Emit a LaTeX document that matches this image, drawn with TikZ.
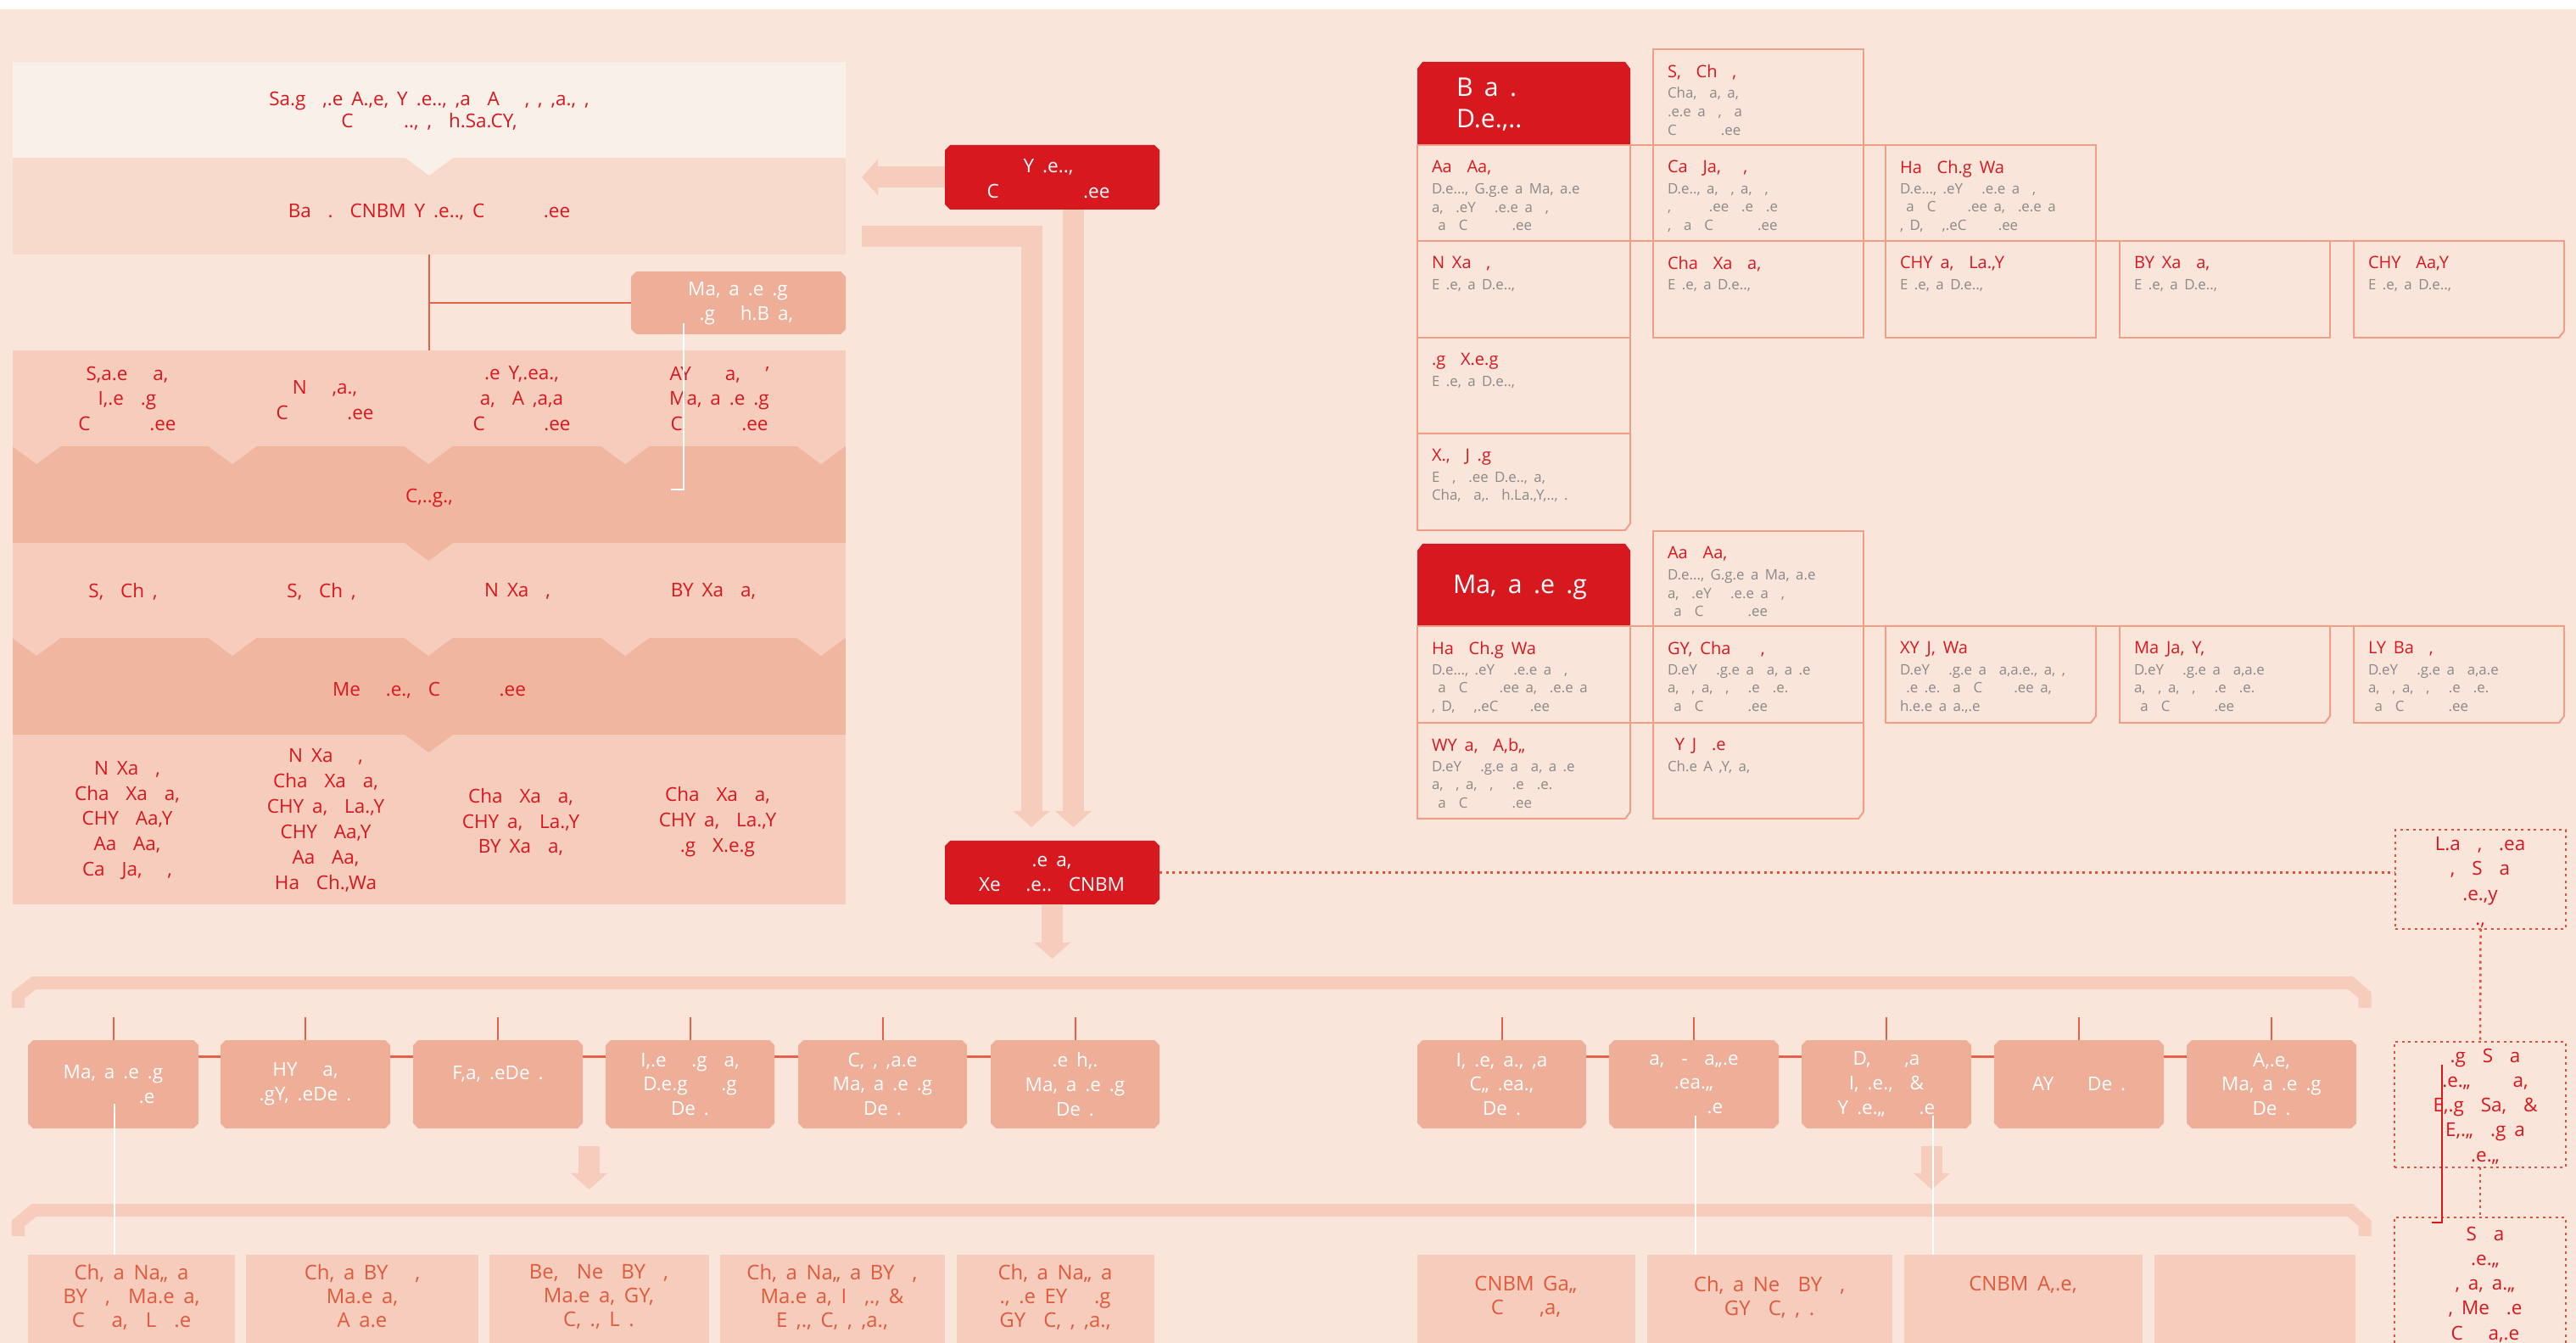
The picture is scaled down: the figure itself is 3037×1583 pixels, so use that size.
\documentclass[tikz,border=0pt]{standalone}
\usepackage{fontspec}
\setmainfont{Open Sans}[WordSpace=1.7]
\usetikzlibrary{arrows.meta,fit,calc}
\definecolor{bgc}{HTML}{FAE5DB}
\definecolor{topc}{HTML}{FAF0EA}
\definecolor{lc2}{HTML}{F8DACD}
\definecolor{lc3}{HTML}{F6CCBC}
\definecolor{lc4}{HTML}{F1B6A0}
\definecolor{cbox}{HTML}{EEAE97}
\definecolor{cred}{HTML}{D7191F}
\definecolor{cstroke}{HTML}{EF9F87}
\definecolor{lred}{HTML}{E6614A}
\definecolor{cgrey}{HTML}{8A8A8A}
\definecolor{corg}{HTML}{E05A3C}
\definecolor{dotc}{HTML}{E3503A}
\pgfdeclarelayer{bg}\pgfdeclarelayer{mid}\pgfsetlayers{bg,mid,main}
\tikzset{
 every node/.style={inner sep=0pt,outer sep=0pt},
 mtext/.style={text=cred,align=center,font=\fontsize{6.4}{8.5}\selectfont},
 wtext/.style={text=white,align=center,font=\fontsize{6.4}{8.2}\selectfont},
 btext/.style={text=corg,align=center,font=\fontsize{6.8}{8}\selectfont},
 bigw/.style={text=white,align=left,font=\fontsize{8.6}{10.5}\selectfont},
 ttl/.style={text=cred,align=left,font=\fontsize{5.7}{6.3}\selectfont},
 gtx/.style={text=cgrey,align=left,font=\fontsize{4.8}{6.2}\selectfont},
 dtext/.style={text=cred,align=center,font=\fontsize{6.4}{8.3}\selectfont},
 lnk/.style={draw=lred,line width=0.02cm},
 lnkh/.style={draw=lred,line width=0.03cm},
 wline/.style={draw=white,line width=0.02cm},
 cellline/.style={draw=cstroke,line width=0.02cm},
 bigarr/.style={draw=lc3,line width=0.25cm,line join=miter,-{Triangle[width=0.43cm,length=0.19cm,line width=0pt]}},
 bracket/.style={draw=lc3,line width=0.15cm,line join=miter},
 dotl/.style={draw=dotc,line width=0.025cm,dash pattern=on 0.03cm off 0.045cm},
 redline/.style={draw=cred,line width=0.02cm},
}
\newcommand\chbox[6]{%
 \node[fit={(#2,#3) (#4,#5)}] (#1) {};
 \begin{pgfonlayer}{mid}
 \fill[#6] ($(#1.north west)+(6,0)$) -- ($(#1.north east)+(-6,0)$) -- ($(#1.north east)+(0,6)$) -- ($(#1.south east)+(0,-6)$) -- ($(#1.south east)+(-6,0)$) -- ($(#1.south west)+(6,0)$) -- ($(#1.south west)+(0,-6)$) -- ($(#1.north west)+(0,6)$) -- cycle;
 \end{pgfonlayer}}
\newcommand\redtop[5]{%
 \node[fit={(#2,#3) (#4,#5)}] (#1) {};
 \begin{pgfonlayer}{mid}
 \fill[cred] ($(#1.north west)+(6,0)$) -- ($(#1.north east)+(-6,0)$) -- ($(#1.north east)+(0,8)$) -- (#1.south east) -- (#1.south west) -- ($(#1.north west)+(0,8)$) -- cycle;
 \end{pgfonlayer}}
\newcommand\cellb[7]{%
 \node[cellline,fit={(#2,#3) (#4,#5)}] (#1) {};
 \node[ttl,anchor=north west] (#1t) at ({#2+17},{#3+18}) {#6};
 \node[gtx,anchor=north west] (#1g) at ({#2+17},{#3+45}) {#7};}
\newcommand\cellc[7]{%
 \node[fit={(#2,#3) (#4,#5)}] (#1) {};
 \draw[cellline] (#1.north west) -- (#1.north east) -- ($(#1.south east)+(0,-8)$) -- ($(#1.south east)+(-6,0)$) -- (#1.south west) -- cycle;
 \node[ttl,anchor=north west] (#1t) at ({#2+17},{#3+18}) {#6};
 \node[gtx,anchor=north west] (#1g) at ({#2+17},{#3+45}) {#7};}
\begin{document}
\begin{tikzpicture}[x=0.01cm,y=-0.01cm]
\useasboundingbox (0,0) rectangle (3037,1583);
\begin{pgfonlayer}{bg}
\fill[white] (0,0) rectangle (3037,1583);
\fill[bgc] (0,11) rectangle (3037,1583);
\end{pgfonlayer}

% ---------- left panel ----------
\node[fill=topc,fit={(15,73) (997,187)}] (T1) {};
\node[fill=lc2,fit={(15,186) (997,300)}] (T2) {};
\fill[topc] (478,186) -- (534,186) -- (506,207) -- cycle;
\node[fill=lc3,fit={(15,413) (997,527)}] (B3) {};
\node[fill=lc4,fit={(15,526) (997,641)}] (B4) {};
\node[fill=lc3,fit={(15,640) (997,753)}] (B5) {};
\node[fill=lc4,fit={(15,752) (997,867)}] (B6) {};
\node[fill=lc3,fit={(15,866) (997,1066)}] (B7) {};
\foreach \ax in {43,274,505,737,968}{
 \fill[lc3] ({\ax-28.5},526) -- ({\ax+28.5},526) -- (\ax,547) -- cycle;
 \fill[lc3] ({\ax-28.5},752) -- ({\ax+28.5},752) -- (\ax,773) -- cycle;}
\fill[lc4] (477,640) -- (534,640) -- (505.5,661) -- cycle;
\fill[lc4] (477,866) -- (534,866) -- (505.5,887) -- cycle;

\node[mtext,font=\fontsize{6.4}{7.5}\selectfont] (T1t) at (506,131) {Sa.g\ \ ,.e A.,e, Y .e.., ,a\ \ A\ \ \ , , ,a., ,\\C\ \ \ \ \ \ .., ,\ \ h.Sa.CY,};
\node[mtext] (T2t) at (506,250) {Ba\ \ .\ \ CNBM Y .e.., C\ \ \ \ \ \ \ .ee};

\chbox{M}{744}{320}{997}{394}{cbox}
\node[wtext] (Mt) at (870,358) {Ma, a .e .g\\\ \ .g\ \ \ h.B a,};

\node[mtext] (b3a) at (150,470) {S,a.e\ \ \ a,\\I,.e\ \ .g\\C\ \ \ \ \ \ \ .ee};
\node[mtext] (b3b) at (383,472) {N\ \ \ ,a.,\\C\ \ \ \ \ \ \ .ee};
\node[mtext] (b3c) at (615,470) {.e Y,.ea.,\\a,\ \ A ,a,a\\C\ \ \ \ \ \ \ .ee};
\node[mtext] (b3d) at (848,470) {AY\ \ \ \ a,\ \ \ '\\Ma, a .e .g\\C\ \ \ \ \ \ \ .ee};
\node[mtext] (b4t) at (506,587) {C,..g.,};
\node[mtext] (b5a) at (145,697) {S,\ \ Ch ,};
\node[mtext] (b5b) at (379,697) {S,\ \ Ch ,};
\node[mtext] (b5c) at (610,697) {N Xa\ \ ,};
\node[mtext] (b5d) at (841,697) {BY Xa\ \ a,};
\node[mtext] (b6t) at (506,814) {Me\ \ \ .e.,\ \ C\ \ \ \ \ \ \ .ee};
\node[mtext] (b7a) at (150,967) {N Xa\ \ ,\\Cha\ \ Xa\ \ a,\\CHY\ \ Aa,Y\\Aa\ \ Aa,\\Ca\ \ Ja,\ \ \ ,};
\node[mtext] (b7b) at (384,967) {N Xa\ \ \ ,\\Cha\ \ Xa\ \ a,\\CHY a,\ \ La.,Y\\CHY\ \ Aa,Y\\Aa\ \ Aa,\\Ha\ \ Ch.,Wa};
\node[mtext] (b7c) at (614,969) {Cha\ \ Xa\ \ a,\\CHY a,\ \ La.,Y\\BY Xa\ \ a,};
\node[mtext] (b7d) at (846,969) {Cha\ \ Xa\ \ a,\\CHY a,\ \ La.,Y\\.g\ \ X.e.g};

\draw[lnk] (T2.south) -- (B3.north);
\draw[lnk] (T2.south |- M.west) -- (M.west);
\coordinate (wl1) at (806,381);
\coordinate (wl2) at (806,577);
\coordinate (wl3) at (791,577);
\draw[wline] (wl1) -- (wl2) -- (wl3);

% ---------- middle red boxes and arrows ----------
\chbox{S}{1114}{171}{1367}{247}{cred}
\node[wtext,font=\fontsize{6.4}{8.5}\selectfont] (St) at (1236,211) {Y .e.., \\C\ \ \ \ \ \ \ \ \ \ .ee};
\chbox{C}{1114}{991}{1367}{1066}{cred}
\node[wtext] (Ct) at (1240,1030) {.e a,\\Xe\ \ \ .e..\ \ CNBM};

\coordinate (a1e) at (1016,209);
\draw[bigarr] (S.west) -- (a1e);
\coordinate (a2e) at (1265.5,975);
\draw[bigarr] (S.south -| a2e) -- (a2e);
\coordinate (a3s) at (1016,278.5);
\coordinate (a3c) at (1216,278.5);
\coordinate (a3e) at (1216,975);
\draw[bigarr] (a3s) -- (a3c) -- (a3e);
\coordinate (a4e) at (1241,1130);
\draw[bigarr] (C.south) -- (C.south |- a4e);

% ---------- top right grid, block 1 ----------
\redtop{G1}{1671}{73}{1922}{172}
\node[bigw,anchor=west] (G1t) at (1717,123) {B a .\\D.e.,..};
\draw[cellline] (1671,171) -- (2471,171);
\draw[cellline] (1671,284) -- (3023,284);
\cellb{G12}{1949}{58}{2197}{171}{S,\ \ Ch\ \ ,}{Cha,\ \ a, a,\\.e.e a\ \ ,\ \ a\\C\ \ \ \ \ \ \ .ee}
\cellb{G21}{1671}{171}{1922}{284}{Aa\ \ Aa,}{D.e..., G.g.e a Ma, a.e\\a,\ \ .eY\ \ \ .e.e a\ \ ,\\\ a\ \ C\ \ \ \ \ \ \ .ee}
\cellb{G22}{1949}{171}{2197}{284}{Ca\ \ Ja,\ \ \ ,}{D.e.., a,\ \ , a,\ \ ,\\,\ \ \ \ \ \ .ee\ \ .e\ \ .e\\,\ \ a\ \ C\ \ \ \ \ \ \ .ee}
\cellb{G23}{2223}{171}{2471}{284}{Ha\ \ Ch.g Wa}{D.e..., .eY\ \ \ .e.e a\ \ ,\\\ a\ \ C\ \ \ \ \ .ee a,\ \ .e.e a\\, D,\ \ \ ,.eC\ \ \ \ \ .ee}
\cellb{G31}{1671}{284}{1922}{398}{N Xa\ \ ,}{E .e, a D.e..,}
\cellb{G32}{1949}{284}{2197}{398}{Cha\ \ Xa\ \ a,}{E .e, a D.e..,}
\cellb{G33}{2223}{284}{2471}{398}{CHY a,\ \ La.,Y}{E .e, a D.e..,}
\cellb{G34}{2499}{284}{2747}{398}{BY Xa\ \ a,}{E .e, a D.e..,}
\cellc{G35}{2775}{284}{3023}{398}{CHY\ \ Aa,Y}{E .e, a D.e..,}
\cellb{G41}{1671}{398}{1922}{511}{.g\ \ X.e.g}{E .e, a D.e..,}
\cellc{G51}{1671}{511}{1922}{625}{X.,\ \ J .g}{E\ \ ,\ \ .ee D.e.., a,\\Cha,\ \ a,.\ \ h.La.,Y,.., .}

% ---------- top right grid, block 2 ----------
\redtop{H1}{1671}{641}{1922}{739}
\node[bigw,anchor=west] (H1t) at (1713,692) {Ma, a .e .g};
\draw[cellline] (1922,738) -- (3023,738);
\draw[cellline] (1671,852) -- (2197,852);
\cellb{H12}{1949}{626}{2197}{738}{Aa\ \ Aa,}{D.e..., G.g.e a Ma, a.e\\a,\ \ .eY\ \ \ .e.e a\ \ ,\\\ a\ \ C\ \ \ \ \ \ \ .ee}
\cellb{H21}{1671}{738}{1922}{852}{Ha\ \ Ch.g Wa}{D.e..., .eY\ \ \ .e.e a\ \ ,\\\ a\ \ C\ \ \ \ \ .ee a,\ \ .e.e a\\, D,\ \ \ ,.eC\ \ \ \ \ .ee}
\cellb{H22}{1949}{738}{2197}{852}{GY, Cha\ \ \ \ ,}{D.eY\ \ \ .g.e a\ \ a, a .e\\a,\ \ , a,\ \ ,\ \ \ .e\ \ .e.\\\ a\ \ C\ \ \ \ \ \ \ .ee}
\cellc{H23}{2223}{738}{2471}{852}{XY J, Wa}{D.eY\ \ \ .g.e a\ \ a,a.e., a,\ ,\\\ .e\ .e.\ \ a\ \ C\ \ \ \ \ .ee a,\\h.e.e a a.,.e}
\cellc{H24}{2499}{738}{2747}{852}{Ma Ja, Y,}{D.eY\ \ \ .g.e a\ \ a,a.e\\a,\ \ , a,\ \ ,\ \ \ .e\ \ .e.\\\ a\ \ C\ \ \ \ \ \ \ .ee}
\cellc{H25}{2775}{738}{3023}{852}{LY Ba\ \ ,}{D.eY\ \ \ .g.e a\ \ a,a.e\\a,\ \ , a,\ \ ,\ \ \ .e\ \ .e.\\\ a\ \ C\ \ \ \ \ \ \ .ee}
\cellc{H31}{1671}{852}{1922}{965}{WY a,\ \ A,b,,}{D.eY\ \ \ .g.e a\ \ a, a .e\\a,\ \ , a,\ \ ,\ \ \ .e\ \ .e.\\\ a\ \ C\ \ \ \ \ \ \ .ee}
\cellc{H32}{1949}{852}{2197}{965}{\ Y J\ \ .e}{Ch.e A ,Y, a,}

% ---------- right dotted boxes ----------
\node[dotl,fit={(2824,978) (3025,1095)}] (DL) {};
\node[dtext] (DLt) at (2924,1040) {L.a\ \ ,\ \ .ea\\,\ \ S\ \ a\\.e.,y\\.,};
\node[dotl,fit={(2823,1228) (3025,1376)}] (DA) {};
\node[dtext] (DAt) at (2930,1304) {.g\ \ S\ \ a\\.e.,,\ \ \ \ \ a,\\E,.g\ \ Sa,\ \ \&\\E,.,,\ \ .g a\\.e.,,};
\node[fit={(2823,1435) (3025,1583)}] (DB) {};
\draw[dotl] (DB.south west) -- (DB.north west) -- (DB.north east) -- (DB.south east);
\node[dtext,anchor=north] (DBt) at (2930,1446) {S\ \ a\\.e.,,\\, a, a.,,\\, Me\ \ .e\\C\ \ \ a,.e};
\draw[dotl] (C.east) -- (C.east -| DL.west);
\draw[dotl] (DL.south) -- (DA.north);
\draw[dotl] (DA.south) -- (DB.north);
\coordinate (rl1) at (2879,1255);
\coordinate (rl2) at (2879,1441);
\coordinate (rl3) at (2867,1441);
\draw[redline] (rl1) -- (rl2) -- (rl3);

% ---------- bottom section ----------
\draw[bracket] (21.5,1188) -- (21.5,1173) -- (40,1158.5) -- (2771,1158.5) -- (2788,1173) -- (2788,1188);
\draw[bracket] (21.5,1457) -- (21.5,1442) -- (40,1426.5) -- (2771,1426.5) -- (2788,1442) -- (2788,1457);

\chbox{A1}{33}{1226}{234}{1330}{cbox}
\chbox{A2}{260}{1226}{460}{1330}{cbox}
\chbox{A3}{487}{1226}{687}{1330}{cbox}
\chbox{A4}{714}{1226}{913}{1330}{cbox}
\chbox{A5}{941}{1226}{1140}{1330}{cbox}
\chbox{A6}{1168}{1226}{1367}{1330}{cbox}
\chbox{R1}{1671}{1226}{1870}{1330}{cbox}
\chbox{R2}{1897}{1226}{2097}{1330}{cbox}
\chbox{R3}{2124}{1226}{2324}{1330}{cbox}
\chbox{R4}{2351}{1226}{2551}{1330}{cbox}
\chbox{R5}{2578}{1226}{2778}{1330}{cbox}
\node[wtext] (A1t) at (A1) {Ma, a .e .g\\\ \ \ \ \ \ \ \ .e};
\node[wtext] (A2t) at (A2) {HY\ \ \ a,\\.gY, .eDe\ .};
\node[wtext] (A3t) at ($(A3)+(0,-12)$) {F,a, .eDe\ .};
\node[wtext] (A4t) at (A4) {I,.e\ \ \ .g\ \ a,\\D.e.g\ \ \ \ .g\\De\ .};
\node[wtext] (A5t) at (A5) {C, , ,a.e\\Ma, a .e .g\\De\ .};
\node[wtext] (A6t) at (A6) {.e h,.\\Ma, a .e .g\\De\ .};
\node[wtext] (R1t) at (R1) {I, .e, a., ,a\\C,, .ea.,\\De\ .};
\node[wtext] (R2t) at (R2) {a,\ \ -\ \ a,,.e\\.ea.,,\\\ \ \ \ \ .e};
\node[wtext] (R3t) at (R3) {D,\ \ \ \ ,a\\I, .e.,\ \ \&\\Y .e.,,\ \ \ \ .e};
\node[wtext] (R4t) at (R4) {AY\ \ \ \ De\ .};
\node[wtext] (R5t) at (R5) {A,.e,\\Ma, a .e .g\\De\ .};
\foreach \n in {A1,A2,A3,A4,A5,A6,R1,R2,R3,R4,R5} \draw[lnk] (\n.north) -- ++(0,-27);
\begin{pgfonlayer}{bg}
\draw[lnkh] ($(A1.north)+(0,19)$) -- ($(A6.north)+(0,19)$);
\draw[lnkh] ($(R1.north)+(0,19)$) -- ($(R5.north)+(0,19)$);
\end{pgfonlayer}

\node[fill=lc3,fit={(33,1479) (277,1583)}] (L1) {};
\node[fill=lc3,fit={(290,1479) (564,1583)}] (L2) {};
\node[fill=lc3,fit={(577,1479) (836,1583)}] (L3) {};
\node[fill=lc3,fit={(849,1479) (1114,1583)}] (L4) {};
\node[fill=lc3,fit={(1128,1479) (1361,1583)}] (L5) {};
\node[fill=lc3,fit={(1671,1479) (1928,1583)}] (Q1) {};
\node[fill=lc3,fit={(1942,1479) (2231,1583)}] (Q2) {};
\node[fill=lc3,fit={(2245,1479) (2526,1583)}] (Q3) {};
\node[fill=lc3,fit={(2540,1479) (2777,1583)}] (Q4) {};
\node[btext,anchor=north] (L1t) at (155,1490) {Ch, a Na,, a\\BY\ \ ,\ \ Ma.e a,\\C\ \ \ a,\ \ L\ \ .e};
\node[btext,anchor=north] (L2t) at (427,1490) {Ch, a BY\ \ \ ,\\Ma.e a,\\A a.e};
\node[btext,anchor=north] (L3t) at (706,1490) {Be,\ \ Ne\ \ BY\ \ ,\\Ma.e a, GY,\\C, ., L .};
\node[btext,anchor=north] (L4t) at (981,1490) {Ch, a Na,, a BY\ \ ,\\Ma.e a, I\ \ ,., \&\\E ,., C, , ,a.,};
\node[btext,anchor=north] (L5t) at (1244,1490) {Ch, a Na,, a\\., .e EY\ \ \ .g\\GY\ \ C, , ,a.,};
\node[btext,anchor=north] (Q1t) at (1799,1504) {CNBM Ga,,\\C\ \ \ \ ,a,};
\node[btext,anchor=north] (Q2t) at (2086,1504) {Ch, a Ne\ \ BY\ \ ,\\GY\ \ C, , .};
\node[btext,anchor=north] (Q3t) at (2385,1504) {CNBM A,.e,};

\coordinate (sa1s) at (694.5,1351);
\coordinate (sa1e) at (694.5,1402);
\draw[bigarr] (sa1s) -- (sa1e);
\coordinate (sa2s) at (2277.5,1351);
\coordinate (sa2e) at (2277.5,1402);
\draw[bigarr] (sa2s) -- (sa2e);

\draw[wline] ($(A1.south)+(1.5,-29)$) -- ($(A1.south |- L1.north)+(1.5,0)$);
\draw[wline] ($(R2.south)+(2,-15)$) -- ($(R2.south |- Q2.north)+(2,0)$);
\draw[wline] ($(R3.south)+(55,-15)$) -- ($(R3.south |- Q3.north)+(55,0)$);
\end{tikzpicture}
\end{document}
